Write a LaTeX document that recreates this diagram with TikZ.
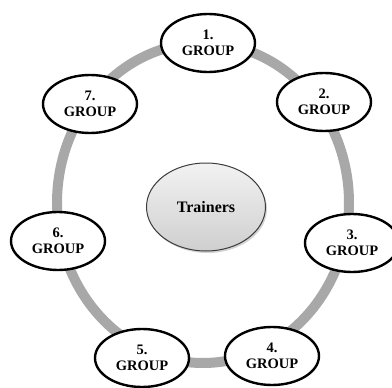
\documentclass[tikz,border=0pt]{standalone}
\usepackage{fontspec}
\setmainfont{Liberation Serif}
\usetikzlibrary{shapes.geometric}
\usetikzlibrary{shadows}
\definecolor{ringgray}{HTML}{A8A8A8}
\definecolor{hubtop}{HTML}{F2F2F2}
\definecolor{hubbottom}{HTML}{CFCFCF}
\definecolor{hubline}{HTML}{3C3C3C}

\begin{document}
\begin{tikzpicture}[x = 1pt, y = -1pt,
    group/.style = {ellipse, draw = black, line width = 2.4pt, fill = white,
      minimum width = 94pt, minimum height = 58pt, inner sep = 0pt,
      align = center, font = \fontsize{14.5}{16.5}\selectfont\bfseries},
    hub/.style = {ellipse, draw = hubline, line width = 1pt,
      top color = hubtop, bottom color = hubbottom,
      drop shadow = {opacity = 0.35, shadow xshift = 1.5pt, shadow yshift = -2pt},
      minimum width = 119pt, minimum height = 88pt,
      font = \fontsize{16}{18}\selectfont\bfseries}]%
    \useasboundingbox (0, 0) rectangle (392, 388);

    % the gray ring behind the groups
    \draw[ringgray, line width = 10pt] (203, 203) ellipse [x radius = 146pt, y radius = 160pt];

    \node[hub] (trainers) at (206, 207) {Trainers};

    \node[group] (g1) at (208, 43) {1.\\GROUP};
    \node[group] (g2) at (324, 102) {2.\\GROUP};
    \node[group] (g3) at (352, 243) {3.\\GROUP};
    \node[group] (g4) at (272, 356) {4.\\GROUP};
    \node[group] (g5) at (142, 358) {5.\\GROUP};
    \node[group] (g6) at (58, 241) {6.\\GROUP};
    \node[group] (g7) at (90, 104) {7.\\GROUP};
  \end{tikzpicture}
\end{document}
